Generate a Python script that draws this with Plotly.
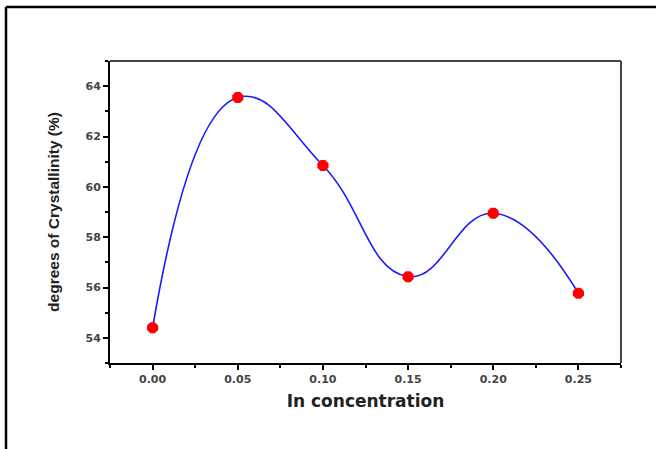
import plotly.graph_objects as go

# Data
in_concentration = [0.00, 0.05, 0.10, 0.15, 0.20, 0.25]
crystallinity = [54.4, 63.55, 60.85, 56.43, 58.95, 55.77]

x_tick_vals = [0.00, 0.05, 0.10, 0.15, 0.20, 0.25]
x_tick_text = ["0.00", "0.05", "0.10", "0.15", "0.20", "0.25"]
y_tick_vals = [54, 56, 58, 60, 62, 64]
y_tick_text = ["54", "56", "58", "60", "62", "64"]

fig = go.Figure()
fig.add_trace(go.Scatter(
    x=in_concentration,
    y=crystallinity,
    mode="lines",
    line=dict(color="#1a1aff", width=1.6, shape="spline", smoothing=1.3),
    hoverinfo="skip",
    showlegend=False,
))
fig.add_trace(go.Scatter(
    x=in_concentration,
    y=crystallinity,
    mode="markers",
    marker=dict(color="#ff0000", size=12, symbol="octagon", line=dict(width=0)),
    showlegend=False,
))

tick_font = dict(family="DejaVu Sans", size=11, color="#444", weight="bold")

fig.update_xaxes(
    range=[-0.025, 0.275],
    tickvals=x_tick_vals,
    ticktext=x_tick_text,
    ticks="outside", ticklen=5, tickwidth=1.5, tickcolor="#000",
    minor=dict(dtick=0.025, tick0=0.025, ticks="outside", ticklen=3, tickwidth=1.5, tickcolor="#000"),
    showline=True, linecolor="#000", linewidth=2, mirror=False,
    showgrid=False, zeroline=False,
    tickfont=tick_font,
    title=dict(text="In concentration",
               font=dict(family="DejaVu Sans", size=17, color="#222", weight="bold"),
               standoff=10),
)
fig.update_yaxes(
    range=[53, 65],
    tickvals=y_tick_vals,
    ticktext=y_tick_text,
    ticks="outside", ticklen=5, tickwidth=1.5, tickcolor="#000",
    minor=dict(dtick=1, tick0=53, ticks="outside", ticklen=3, tickwidth=1.5, tickcolor="#000"),
    showline=True, linecolor="#000", linewidth=2, mirror=False,
    showgrid=False, zeroline=False,
    tickfont=tick_font,
    title=dict(text="degrees of Crystallinity (%)",
               font=dict(family="Liberation Sans", size=15.5, color="#222", weight="bold"),
               standoff=22),
)

# Outer figure frame (top and left edges)
L, R, T, B = 110, 35, 61, 86
W, H = 656, 449
pw, ph = W - L - R, H - T - B
def px(xp):
    return (xp - L) / pw
def py(yp):
    return (H - B - yp) / ph

# grey top/right edges of the plot box
fig.add_shape(type="line", xref="paper", yref="paper", layer="below",
              x0=0, x1=1, y0=1, y1=1, line=dict(color="#444", width=2))
fig.add_shape(type="line", xref="paper", yref="paper", layer="below",
              x0=1, x1=1, y0=0, y1=1, line=dict(color="#444", width=2))

fig.add_shape(type="line", xref="paper", yref="paper",
              x0=px(6), x1=px(660), y0=py(7), y1=py(7),
              line=dict(color="#000", width=2.5))
fig.add_shape(type="line", xref="paper", yref="paper",
              x0=px(6), x1=px(6), y0=py(7), y1=py(455),
              line=dict(color="#000", width=2.5))

fig.update_layout(
    width=W, height=H,
    margin=dict(l=L, r=R, t=T, b=B),
    paper_bgcolor="white",
    plot_bgcolor="white",
    showlegend=False,
)

fig.write_html("out.html")
